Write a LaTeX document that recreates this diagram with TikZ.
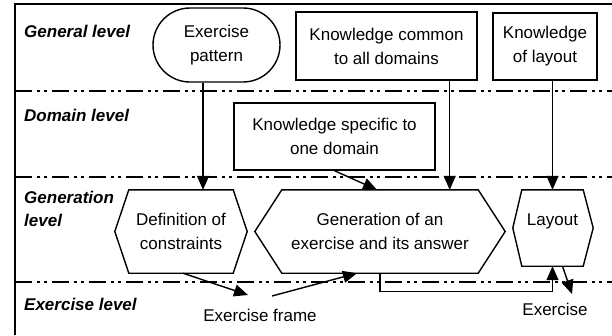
\documentclass[tikz,border=0pt]{standalone}
\usepackage{fontspec}
\setmainfont{Liberation Sans}
\usetikzlibrary{arrows.meta,calc}
\begin{document}
\begin{tikzpicture}[x=1pt,y=-1pt,
 font=\fontsize{17}{24}\selectfont,
 lvl/.style={line width=1.7pt, dash pattern=on 17pt off 5pt on 3pt off 4pt on 3pt off 5pt},
 lvllabel/.style={font=\fontsize{17}{23}\selectfont\bfseries\itshape, align=left, inner sep=0pt},
 box/.style={draw, line width=1.4pt, align=center, inner sep=0pt},
 hexin/.style={align=center, inner sep=0pt},
 hexline/.style={line width=1.4pt, line join=miter},
 conn/.style={line width=1.4pt, -{Triangle[length=14pt,width=12pt]}},
 plain/.style={inner sep=0pt, anchor=base},
]
\useasboundingbox (0,0) rectangle (612,335);
\fill[white] (0,0) rectangle (612,335);
\draw[line width=1.4pt] (15,335) -- (15,4) -- (612,4);
\draw[lvl] (15,91) -- (612,91);
\draw[lvl] (15,177) -- (612,177);
\draw[lvl] (15,282) -- (612,282);

% level labels
\node[lvllabel, anchor=base west] (gl) at (24,37) {General level};
\node[lvllabel, anchor=base west] (dl) at (24,121) {Domain level};
\node[lvllabel, anchor=north west] (gnl) at (24,190.5) {Generation\\level};
\node[lvllabel, anchor=base west] (xl) at (24,310) {Exercise level};

% boxes
\node[box, rounded corners=37pt, minimum width=127pt, minimum height=74pt] (ep) at (216.5,45) {Exercise\\pattern};
\node[box, minimum width=181pt, minimum height=68pt] (kc) at (386.5,46) {Knowledge common\\to all domains};
\node[box, minimum width=104pt, minimum height=67pt] (kl) at (545,46.5) {Knowledge\\of layout};
\node[box, minimum width=201pt, minimum height=67pt] (ks) at (334.5,136.5) {Knowledge specific to\\one domain};

% hexagons
\node[hexin, minimum width=104pt, minimum height=83pt] (def) at (181,231.5) {Definition of\\constraints};
\draw[hexline] (def.north west) -- (def.north east) -- ($(def.east)+(14,0)$) -- (def.south east) -- (def.south west) -- ($(def.west)+(-14,0)$) -- cycle;
\node[hexin, minimum width=196pt, minimum height=83pt] (gen) at (380,231.5) {Generation of an\\exercise and its answer};
\draw[hexline] (gen.north west) -- (gen.north east) -- ($(gen.east)+(27,0)$) -- (gen.south east) -- (gen.south west) -- ($(gen.west)+(-27,0)$) -- cycle;
\node[hexin, minimum width=61pt, minimum height=76pt] (lay) at (552.5,228) {};
\draw[hexline] (lay.north west) -- (lay.north east) -- ($(lay.east)+(10,0)$) -- (lay.south east) -- (lay.south west) -- ($(lay.west)+(-9,0)$) -- cycle;
\node[plain] (laytxt) at (552.5,225) {Layout};

% free labels
\node[plain] (ef) at (260,321) {Exercise frame};
\node[plain] (ex) at (555,315) {Exercise};
\coordinate (efin) at (248,295);
\coordinate (efout) at (272,296);
\coordinate (exin) at (572,294);

% connectors
\draw[conn] ([xshift=-13.5pt]ep.south) -- ([xshift=-13.5pt]ep.south |- def.north);
\draw[conn] ([xshift=-28pt]kc.south east) -- ([xshift=-28pt]kc.south east |- gen.north);
\draw[conn] (kl.south -| lay.north) -- (lay.north);
\draw[conn] (ks.south) -- ([xshift=-3pt]gen.north);
\draw[conn] ([xshift=2pt]def.south) -- (efin);
\draw[conn] (efout) -- ([xshift=-23pt]gen.south);
\draw[conn] (gen.south) -- ++(0,18) -| (lay.south);
\draw[conn] ([xshift=10pt]lay.south) -- (exin);
\end{tikzpicture}
\end{document}
